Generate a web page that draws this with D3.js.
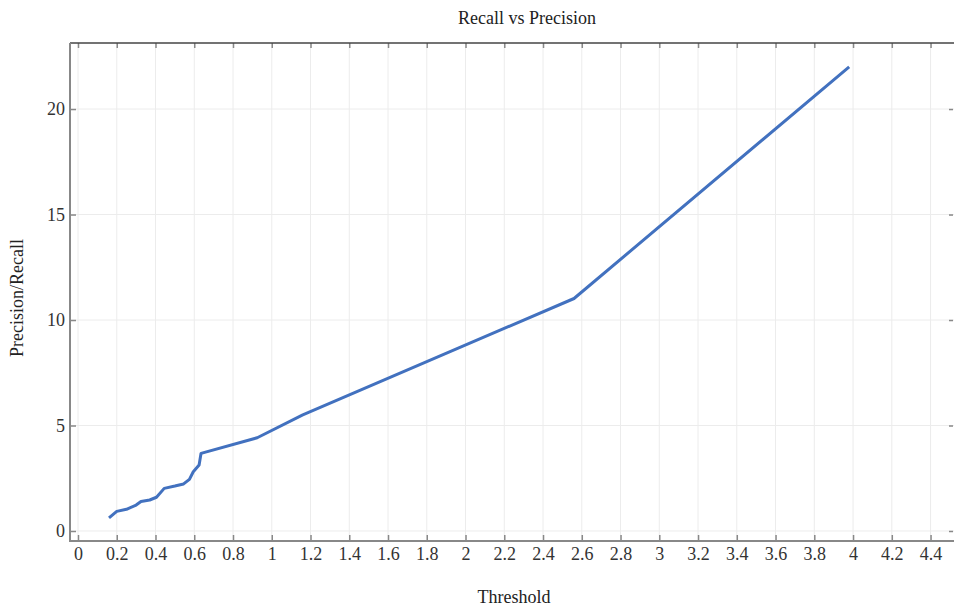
<!DOCTYPE html>
<head>
  <meta charset="utf-8">
  <title>Recall vs Precision</title>
  <script src="https://d3js.org/d3.v7.min.js"></script>
  <style>
  body {margin: 0; background: white;}
  text {font-family: "Liberation Serif", "DejaVu Serif", serif; fill: #222;}
  .grid line {stroke: #ececec; stroke-width: 1px;}
  .tickLabel {font-size: 18px; fill: #333;}
  </style>
</head>
<body>
  <svg id="chart" width="954" height="608"></svg>
  <script>
  // threshold vs precision/recall
  var threshold = [0.16, 0.20, 0.25, 0.30, 0.325, 0.37, 0.405, 0.445, 0.50, 0.545, 0.575, 0.595, 0.625, 0.635, 0.925, 1.16, 2.56, 3.98];
  var ratio     = [0.62, 0.93, 1.03, 1.23, 1.40, 1.47, 1.60, 2.02, 2.13, 2.23, 2.45, 2.81, 3.13, 3.68, 4.42, 5.50, 11.02, 22.0];
  var xTicks = d3.range(0, 23).map(function(i) { return i * 0.2; });
  var yTicks = [0, 5, 10, 15, 20];

  var svg = d3.select("#chart");
  var plotL = 70, plotR = 954, plotT = 43, plotB = 541;

  var x = d3.scaleLinear().domain([-0.0413, 4.521]).range([plotL, plotR]);
  var y = d3.scaleLinear().domain([-0.474, 23.13]).range([plotB, plotT]);
  var fmt = function(d) { return String(+d.toFixed(1)); };

  // grid
  var grid = svg.append("g").attr("class", "grid");
  grid.selectAll("line.v").data(xTicks).enter().append("line")
    .attr("x1", function(d) { return x(d); }).attr("x2", function(d) { return x(d); })
    .attr("y1", plotT).attr("y2", plotB);
  grid.selectAll("line.h").data(yTicks).enter().append("line")
    .attr("x1", plotL).attr("x2", plotR)
    .attr("y1", function(d) { return y(d); }).attr("y2", function(d) { return y(d); });

  // ticks pointing inward, on all four sides
  var tickStyle = function(g) {
    g.select(".domain").remove();
    g.selectAll(".tick line").attr("stroke", "#888").attr("stroke-width", 1.5);
  };
  svg.append("g").attr("transform", "translate(0," + plotB + ")")
    .call(d3.axisBottom(x).tickValues(xTicks).tickSize(-6).tickFormat(fmt).tickPadding(6))
    .call(tickStyle)
    .selectAll("text").attr("class", "tickLabel");
  svg.append("g").attr("transform", "translate(0," + plotT + ")")
    .call(d3.axisTop(x).tickValues(xTicks).tickSize(-5).tickFormat(""))
    .call(tickStyle);
  svg.append("g").attr("transform", "translate(" + plotL + ",0)")
    .call(d3.axisLeft(y).tickValues(yTicks).tickSize(-6).tickFormat(fmt).tickPadding(5))
    .call(tickStyle)
    .selectAll("text").attr("class", "tickLabel");
  svg.append("g").attr("transform", "translate(" + (plotR - 1) + ",0)")
    .call(d3.axisRight(y).tickValues(yTicks).tickSize(-4).tickFormat(""))
    .call(tickStyle);

  // frame
  svg.append("line").attr("x1", plotL).attr("x2", plotR).attr("y1", plotT).attr("y2", plotT)
    .attr("stroke", "#444").attr("stroke-width", 1.5);
  svg.append("line").attr("x1", plotL).attr("x2", plotR).attr("y1", plotB).attr("y2", plotB)
    .attr("stroke", "#888").attr("stroke-width", 2);
  svg.append("line").attr("x1", plotL).attr("x2", plotL).attr("y1", plotT).attr("y2", plotB + 1)
    .attr("stroke", "#888").attr("stroke-width", 2);

  // the curve
  var pts = threshold.map(function(t, i) { return [t, ratio[i]]; });
  svg.append("path").datum(pts)
    .attr("fill", "none")
    .attr("stroke", "#4271bf")
    .attr("stroke-width", 3)
    .attr("stroke-linejoin", "round")
    .attr("d", d3.line().x(function(d) { return x(d[0]); }).y(function(d) { return y(d[1]); }));

  // titles
  svg.append("text").attr("x", 527).attr("y", 24).attr("text-anchor", "middle")
    .style("font-size", "18px").text("Recall vs Precision");
  svg.append("text").attr("x", 514).attr("y", 603).attr("text-anchor", "middle")
    .style("font-size", "18px").text("Threshold");
  svg.append("text").attr("transform", "translate(23,298) rotate(-90)").attr("text-anchor", "middle")
    .style("font-size", "18px").text("Precision/Recall");
  </script>
</body>
